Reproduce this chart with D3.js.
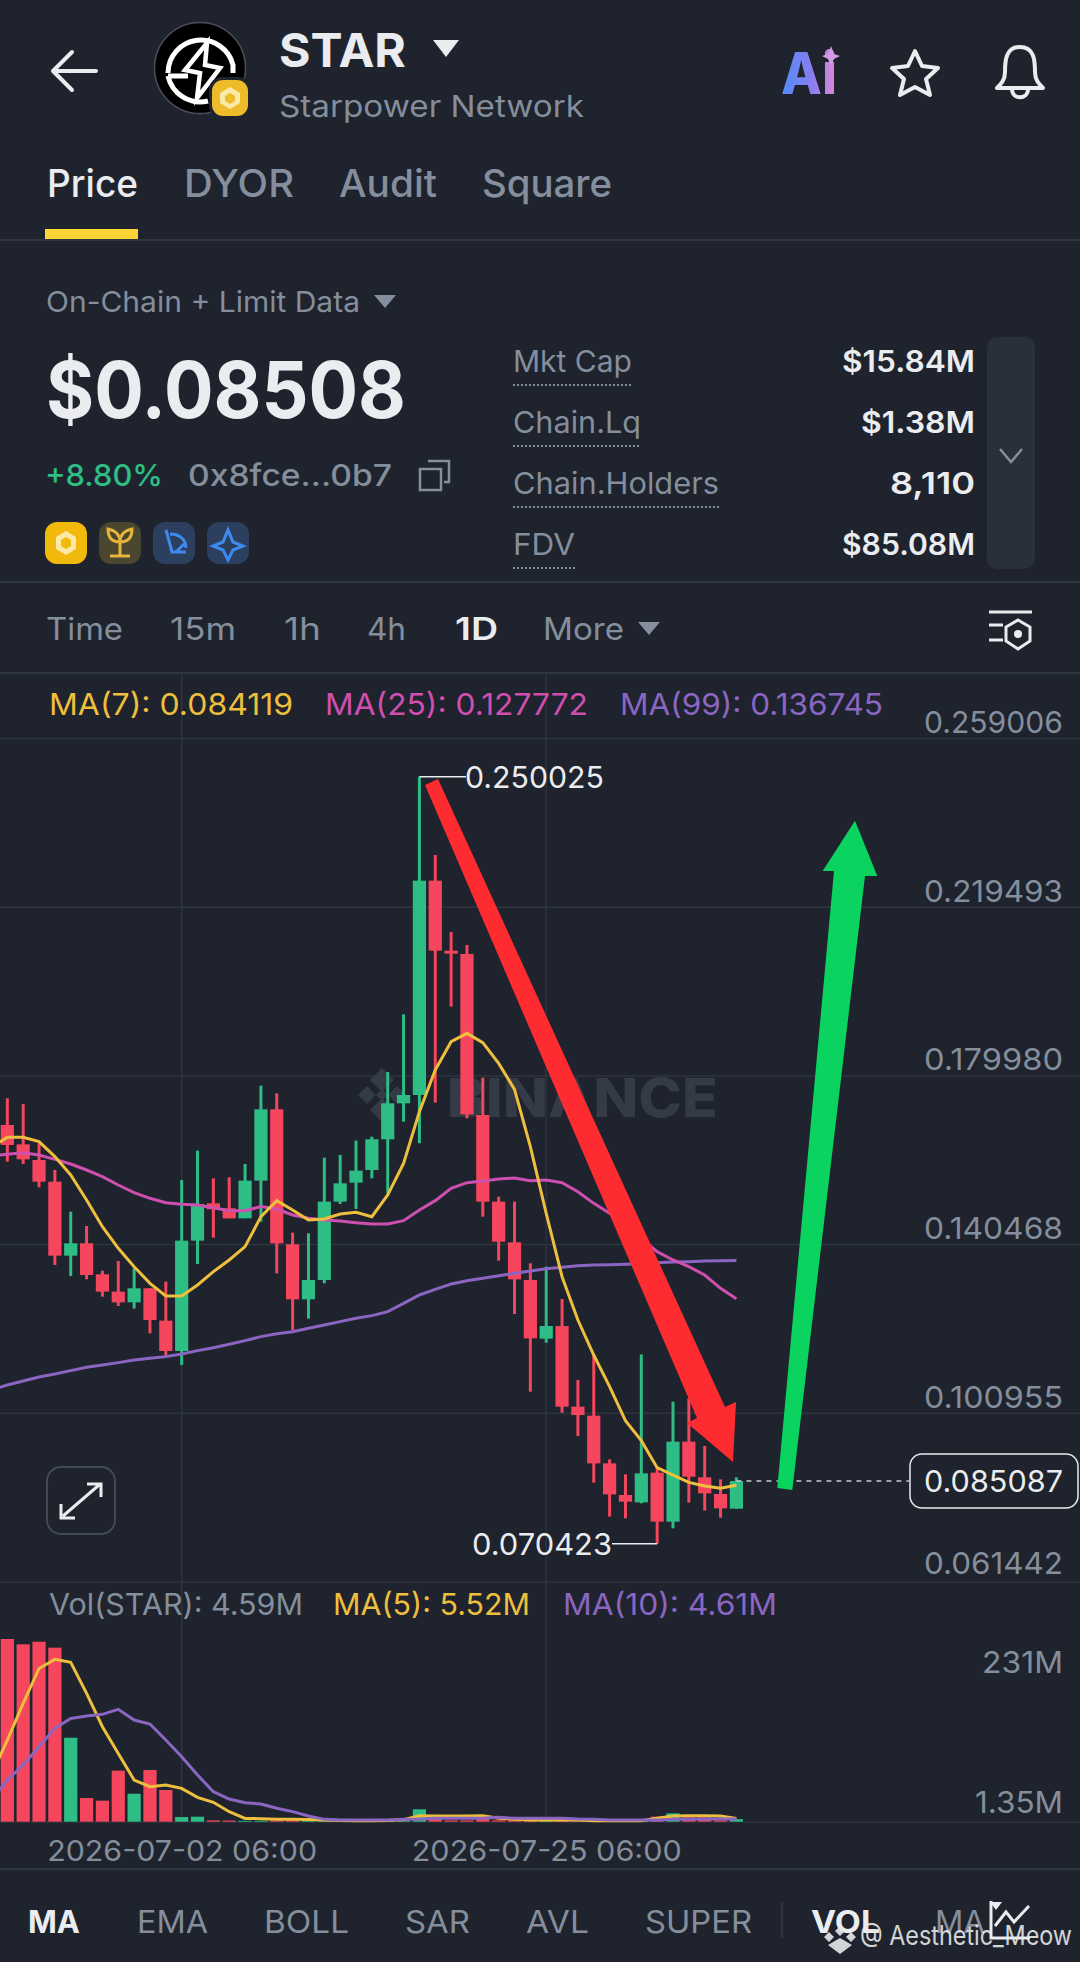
<!DOCTYPE html>
<html>
<head>
<meta charset="utf-8">
<script src="https://cdn.jsdelivr.net/npm/d3@7"></script>
<style>
  html, body { margin: 0; padding: 0; background: #1e232d; }
  svg { display: block; font-family: Inter, "Noto Sans", sans-serif; }
</style>
</head>
<body>
<div id="chart"></div>
<script>
//-------------------------------------------------------//
//                        DATA                           //
//-------------------------------------------------------//

// first candle is 2026-06-21, one per day. the MA lists start one day earlier
// because the lines run off the left edge of the chart
var firstDay = new Date(Date.UTC(2026, 5, 21, 6));

var opens = [0.16848, 0.16395, 0.16028, 0.15521, 0.13788, 0.14077, 0.13351, 0.12945, 0.12695, 0.13023, 0.12266, 0.11555,
    0.14139, 0.15014, 0.14897, 0.14662, 0.15545, 0.17215, 0.14054, 0.12765, 0.13218, 0.15053, 0.15498, 0.15794,
    0.16513, 0.17356, 0.17551, 0.22571, 0.20931, 0.20853, 0.17082, 0.15052, 0.14099, 0.13217, 0.11843, 0.12140,
    0.10251, 0.10040, 0.08923, 0.08182, 0.08010, 0.08705, 0.07557, 0.09431, 0.08596, 0.08205, 0.07862];
var closes = [0.16380, 0.16044, 0.15521, 0.13788, 0.14077, 0.13335, 0.12945, 0.12695, 0.13023, 0.12281, 0.11555, 0.14139,
    0.14998, 0.14873, 0.14662, 0.15545, 0.17215, 0.14077, 0.12765, 0.13218, 0.15053, 0.15482, 0.15779, 0.16513,
    0.17356, 0.17551, 0.22571, 0.20931, 0.20861, 0.17098, 0.15052, 0.14115, 0.13233, 0.11851, 0.12140, 0.10251,
    0.10055, 0.08923, 0.08197, 0.08026, 0.08689, 0.07557, 0.09431, 0.08611, 0.08221, 0.07870, 0.085087];
var highs = [0.17473, 0.17340, 0.16419, 0.15794, 0.14818, 0.14483, 0.13436, 0.13663, 0.13491, 0.13023, 0.13179, 0.15560,
    0.16247, 0.15599, 0.15623, 0.15935, 0.17770, 0.17590, 0.14327, 0.14311, 0.16083, 0.16146, 0.16481, 0.16575,
    0.18090, 0.19440, 0.250025, 0.23172, 0.21368, 0.21064, 0.17957, 0.15169, 0.15052, 0.13608, 0.13530, 0.12772,
    0.10875, 0.11461, 0.09017, 0.08666, 0.11476, 0.08806, 0.10368, 0.10446, 0.09329, 0.08549, 0.08596];
var lows = [0.15989, 0.15935, 0.15388, 0.13569, 0.13311, 0.13234, 0.12827, 0.12609, 0.12547, 0.11969, 0.11438, 0.11227,
    0.13593, 0.14210, 0.14662, 0.14662, 0.14584, 0.13374, 0.12047, 0.12313, 0.13140, 0.14998, 0.14881, 0.15599,
    0.15248, 0.16926, 0.16419, 0.17371, 0.19620, 0.17004, 0.14701, 0.13670, 0.12421, 0.10602, 0.11749, 0.10110,
    0.09564, 0.08471, 0.07674, 0.07635, 0.07987, 0.070423, 0.07401, 0.08002, 0.07815, 0.07651, 0.07862];

var ma7 = [0.16341, 0.16559, 0.16559, 0.16458, 0.16107, 0.15677, 0.15092, 0.14467, 0.13960, 0.13530, 0.13140, 0.12843,
    0.12843, 0.13101, 0.13413, 0.13687, 0.13999, 0.14701, 0.15076, 0.14857, 0.14623, 0.14647, 0.14764, 0.14803,
    0.14701, 0.15209, 0.15950, 0.17161, 0.18136, 0.18800, 0.18995, 0.18776, 0.18292, 0.17683, 0.16341, 0.14779,
    0.13295, 0.12280, 0.11461, 0.10719, 0.09923, 0.09454, 0.08822, 0.08650, 0.08478, 0.08392, 0.08338, 0.084119];
var ma25 = [0.16122, 0.16161, 0.16200, 0.16146, 0.16044, 0.15935, 0.15794, 0.15638, 0.15443, 0.15264, 0.15131, 0.15029,
    0.14990, 0.14975, 0.14912, 0.14842, 0.14842, 0.14936, 0.14881, 0.14741, 0.14662, 0.14623, 0.14600, 0.14561,
    0.14530, 0.14529, 0.14607, 0.14857, 0.15076, 0.15365, 0.15497, 0.15537, 0.15583, 0.15607, 0.15544, 0.15560,
    0.15497, 0.15286, 0.15013, 0.14779, 0.14505, 0.14193, 0.13881, 0.13686, 0.13530, 0.13334, 0.13022, 0.127772];
var ma99 = [0.10642, 0.10759, 0.10853, 0.10946, 0.11017, 0.11095, 0.11173, 0.11227, 0.11282, 0.11344, 0.11384, 0.11423,
    0.11485, 0.11563, 0.11633, 0.11711, 0.11797, 0.11891, 0.11961, 0.12008, 0.12086, 0.12164, 0.12242, 0.12320,
    0.12383, 0.12476, 0.12671, 0.12867, 0.12999, 0.13124, 0.13202, 0.13257, 0.13319, 0.13374, 0.13429, 0.13480,
    0.13515, 0.13553, 0.13569, 0.13576, 0.13584, 0.13600, 0.13623, 0.13639, 0.13647, 0.13662, 0.13670, 0.136745];

// volume in millions
var volumes = [231, 224.3, 227.6, 220.1, 106.9, 31.1, 27.8, 65.5, 36.5, 66.3, 41.2, 7.2,
    7.6, 3, 2.8, 2.5, 2.5, 2.8, 3, 2.5, 2.2, 2, 2, 2.2,
    2.4, 3, 16.9, 6.8, 3, 3, 6.8, 3, 3, 3.5, 3, 2.5,
    2.2, 2.2, 2, 2, 2.5, 7.7, 11.9, 6.8, 6.8, 3, 4.59];
var volMa5 = [60, 104, 150, 194, 205.4, 201.6, 162.7, 120.8, 87.2, 53.7, 45.3, 47.4,
    43.3, 31.9, 25.7, 13.9, 5.5, 5.1, 4.3, 4.3, 4, 3.5, 2.8, 2.6,
    2.6, 2.8, 4, 8.9, 8.5, 8.5, 8.5, 8.9, 5.6, 4.3, 3.5, 3.5,
    3.5, 3.5, 2.7, 2.7, 2.7, 2.7, 5.6, 8.5, 8.9, 8.9, 8.5, 5.52];
var volMa10 = [28.6, 53.7, 72.6, 95.6, 118.7, 131.2, 134.2, 136.3, 142.6, 129.1, 124.1, 104,
    83, 60, 39.1, 29.8, 25.3, 23.6, 18.2, 14, 8.5, 4.3, 3.5, 3.5,
    3.5, 3.5, 4.3, 4.3, 5.6, 5.6, 5.6, 5.6, 6.9, 5.6, 5.6, 5.6,
    5.6, 4.7, 4.3, 3.5, 3.5, 3.5, 3.5, 4.3, 4.3, 4.7, 4.7, 4.61];

var priceTicks = [0.259006, 0.219493, 0.179980, 0.140468, 0.100955, 0.061442];
var volTicks = [231, 1.35];
var dateTicks = [new Date(Date.UTC(2026, 6, 2, 6)), new Date(Date.UTC(2026, 6, 25, 6))];

var tabs = ["Price", "DYOR", "Audit", "Square"];
var intervals = ["Time", "15m", "1h", "4h", "1D", "More"];
var statNames = ["Mkt Cap", "Chain.Lq", "Chain.Holders", "FDV"];
var statValues = ["$15.84M", "$1.38M", "8,110", "$85.08M"];
var maLegend = ["MA(7): 0.084119", "MA(25): 0.127772", "MA(99): 0.136745"];
var volLegend = ["Vol(STAR): 4.59M", "MA(5): 5.52M", "MA(10): 4.61M"];
var indicators = ["MA", "EMA", "BOLL", "SAR", "AVL", "SUPER"];

//-------------------------------------------------------//
//                     SVG + SCALES                      //
//-------------------------------------------------------//

var svgWidth = 1080;
var svgHeight = 1962;

var bgColor = "#1e232d";
var lineColor = "#2f353f";
var gray = "#848e9c";
var white = "#eaecef";
var green = "#2ebd85";
var red = "#f6465d";
var yellow = "#eebf3c";
var pink = "#cf4fb0";
var purple = "#8a66c2";

var svg = d3.select("#chart")
    .append("svg")
    .attr("width", svgWidth)
    .attr("height", svgHeight)
    .attr("viewBox", `0 0 ${svgWidth} ${svgHeight}`);

svg.append("rect").attr("width", svgWidth).attr("height", svgHeight).attr("fill", bgColor);

var days = volumes.map((d, i) => d3.utcDay.offset(firstDay, i));
var maDays = [d3.utcDay.offset(firstDay, -1)].concat(days);

var xScale = d3.scaleUtc()
    .domain([days[0], days[days.length - 1]])
    .range([7.33, 736.4]);

var yScale = d3.scaleLinear()
    .domain([priceTicks[0], priceTicks[priceTicks.length - 1]])
    .range([738.5, 1582]);

var volScale = d3.scaleLinear()
    .domain(volTicks)
    .range([1639, 1821.7]);

// the app font is wider than Inter, w pins a label to the width it has on screen
function label(parent, txt, x, y, size, fill, weight, anchor, w) {
    var t = parent.append("text")
        .attr("x", x)
        .attr("y", y)
        .attr("font-size", size)
        .attr("fill", fill)
        .attr("font-weight", weight || 400)
        .attr("text-anchor", anchor || "start")
        .text(txt);
    if (w) {
        t.attr("textLength", w).attr("lengthAdjust", "spacingAndGlyphs");
    }
    return t;
}

function hline(y, color) {
    svg.append("line").attr("x1", 0).attr("x2", svgWidth).attr("y1", y).attr("y2", y)
        .attr("stroke", color || lineColor).attr("stroke-width", 2);
}

//-------------------------------------------------------//
//                       HEADER                          //
//-------------------------------------------------------//

// back arrow
svg.append("path")
    .attr("d", "M96 71H54M72 52L53 71L72 90")
    .attr("fill", "none").attr("stroke", white).attr("stroke-width", 4).attr("stroke-linecap", "round").attr("stroke-linejoin", "round");

// token logo
var logo = svg.append("g").attr("transform", "translate(200,68)");
logo.append("circle").attr("r", 45.5).attr("fill", "#000").attr("stroke", "#4a4f58").attr("stroke-width", 1.5);
logo.append("path")
    .attr("d", "M-32 5A33 33 0 0 1 33 -3V5M-32 8H-12M-32 8A33 33 0 0 0 8 33")
    .attr("fill", "none").attr("stroke", "#fff").attr("stroke-width", 5);
logo.append("path")
    .attr("d", "M7 -25L-15 2L0 5L-3 30L20 0L5 -3Z")
    .attr("fill", "#000").attr("stroke", "#fff").attr("stroke-width", 4.5).attr("stroke-linejoin", "miter");
var chainBadge = svg.append("g");
chainBadge.append("rect").attr("x", 209).attr("y", 77).attr("width", 42).attr("height", 42).attr("rx", 13).attr("fill", bgColor);
chainBadge.append("rect").attr("x", 212).attr("y", 80).attr("width", 36).attr("height", 36).attr("rx", 11).attr("fill", "#eebb2a");
chainBadge.append("path")
    .attr("transform", "translate(230,98)")
    .attr("d", "M0 -11L10 -5V5L0 11L-10 5V-5ZM0 -5L5 -2V3L0 6L-5 3V-2Z")
    .attr("fill", "#fbe9a8").attr("fill-rule", "evenodd");

label(svg, "STAR", 279, 67, 47, white, 700, "start", 127);
svg.append("path").attr("d", "M433 40H459L446 57Z").attr("fill", white);
label(svg, "Starpower Network", 279, 117, 30, gray, 400, "start", 305);

// ai / star / bell icons
var aiGrad = svg.append("defs").append("linearGradient").attr("id", "aiGrad")
    .attr("x1", "0%").attr("x2", "100%").attr("y1", "0%").attr("y2", "0%");
aiGrad.append("stop").attr("offset", "0%").attr("stop-color", "#4f8df5");
aiGrad.append("stop").attr("offset", "55%").attr("stop-color", "#8a7df0");
aiGrad.append("stop").attr("offset", "100%").attr("stop-color", "#e08ad8");
label(svg, "Ai", 781, 94, 58, "url(#aiGrad)", 800, "start", 56);
svg.append("path").attr("d", "M831 46L834 54L840 56L834 59L831 66L828 59L822 56L828 54Z").attr("fill", "#d59ae6");
svg.append("path")
    .attr("d", "M915 51L922 66L938 68L926 79L930 95L915 87L900 95L904 79L892 68L908 66Z")
    .attr("fill", "none").attr("stroke", white).attr("stroke-width", 4).attr("stroke-linejoin", "round");
svg.append("path")
    .attr("d", "M1020 47C1006 47 1005 60 1005 72C1005 80 1001 84 997 88H1043C1039 84 1035 80 1035 72C1035 60 1034 47 1020 47ZM1012 89C1012 100 1028 100 1028 89")
    .attr("fill", "none").attr("stroke", white).attr("stroke-width", 4).attr("stroke-linejoin", "round");

// tabs
var tabX = [47, 184, 339, 482];
var tabW = [91, 110, 98, 130];
tabs.forEach(function(t, i) {
    label(svg, t, tabX[i], 197, 38, i === 0 ? white : gray, 500, "start", tabW[i]);
});
svg.append("rect").attr("x", 45).attr("y", 229).attr("width", 93).attr("height", 10).attr("fill", "#fcd535");
hline(240);

//-------------------------------------------------------//
//                     PRICE BLOCK                       //
//-------------------------------------------------------//

label(svg, "On-Chain + Limit Data", 46, 312, 29, gray, 400, "start", 314);
svg.append("path").attr("d", "M374 295H396L385 308Z").attr("fill", gray);

label(svg, "$0.08508", 46, 418, 78, white, 700, "start", 360);
label(svg, "+8.80%", 45, 486, 30, green, 500, "start", 118);
label(svg, "0x8fce...0b7", 188, 486, 30, gray, 500, "start", 204);
svg.append("path")
    .attr("d", "M428 461H449V482H444M420 469H441V490H420Z")
    .attr("fill", "none").attr("stroke", gray).attr("stroke-width", 2.5);

var badgeFill = ["#f0b90b", "#4a4630", "#2d3f5e", "#2d3f5e"];
var badgeX = [45, 99, 153, 207];
badgeX.forEach(function(x, i) {
    svg.append("rect").attr("x", x).attr("y", 522).attr("width", 42).attr("height", 42).attr("rx", 12).attr("fill", badgeFill[i]);
});
svg.append("path").attr("d", "M66 531L76 537V549L66 555L56 549V537ZM66 537L71 540V546L66 549L61 546V540Z")
    .attr("fill", "#fbe9a8").attr("fill-rule", "evenodd");
svg.append("path").attr("d", "M120 556V542M110 556H130M120 542C110 542 108 535 108 529C114 530 120 534 120 542C120 534 126 530 132 529C132 535 130 542 120 542")
    .attr("fill", "none").attr("stroke", "#e5b53a").attr("stroke-width", 3);
svg.append("path").attr("d", "M166 530L172 552H186M170 534C180 534 186 540 186 548M176 552L184 544")
    .attr("fill", "none").attr("stroke", "#3d8bf0").attr("stroke-width", 3);
svg.append("path").attr("d", "M228 530L233 542L243 546L233 550L228 560L223 550L213 546L223 542Z")
    .attr("fill", "none").attr("stroke", "#3d8bf0").attr("stroke-width", 3);

// market stats
var statY = [372, 433, 494, 555];
var statNameW = [119, 128, 206, 62];
var statValueW = [133, 114, 85, 133];
statNames.forEach(function(n, i) {
    label(svg, n, 513, statY[i], 30, gray, 400, "start", statNameW[i]);
    svg.append("line").attr("x1", 513).attr("x2", 513 + statNameW[i]).attr("y1", statY[i] + 13).attr("y2", statY[i] + 13)
        .attr("stroke", gray).attr("stroke-width", 2).attr("stroke-dasharray", "2 2");
    label(svg, statValues[i], 975, statY[i], 30, white, 600, "end", statValueW[i]);
});
svg.append("rect").attr("x", 987).attr("y", 337).attr("width", 48).attr("height", 232).attr("rx", 10).attr("fill", "#2a303a");
svg.append("path").attr("d", "M1000 449L1011 462L1022 449").attr("fill", "none").attr("stroke", gray).attr("stroke-width", 2.5);
hline(582);

//-------------------------------------------------------//
//                      INTERVALS                        //
//-------------------------------------------------------//

var intervalX = [46, 170, 284, 367, 455, 543];
var intervalW = [77, 66, 37, 39, 43, 81];
intervals.forEach(function(t, i) {
    label(svg, t, intervalX[i], 640, 31, t === "1D" ? white : gray, t === "1D" ? 600 : 400, "start", intervalW[i]);
});
svg.append("path").attr("d", "M638 622H660L649 635Z").attr("fill", gray);
svg.append("path")
    .attr("d", "M989 612H1032M989 625H1003M989 640H1003")
    .attr("fill", "none").attr("stroke", white).attr("stroke-width", 3);
svg.append("path")
    .attr("d", "M1018 620L1030 627V641L1018 649L1006 641V627Z")
    .attr("fill", "none").attr("stroke", white).attr("stroke-width", 3);
svg.append("circle").attr("cx", 1018).attr("cy", 634).attr("r", 4).attr("fill", white);
hline(673);

//-------------------------------------------------------//
//                         CHART                         //
//-------------------------------------------------------//

// grid
svg.append("g").selectAll("line")
    .data(priceTicks)
    .enter()
    .append("line")
    .attr("x1", 0).attr("x2", svgWidth)
    .attr("y1", d => yScale(d)).attr("y2", d => yScale(d))
    .attr("stroke", lineColor).attr("stroke-width", 1.5);

svg.append("g").selectAll("line")
    .data(dateTicks)
    .enter()
    .append("line")
    .attr("x1", d => xScale(d)).attr("x2", d => xScale(d))
    .attr("y1", 673).attr("y2", 1822)
    .attr("stroke", lineColor).attr("stroke-width", 1.5);

// binance watermark
var mark = svg.append("g").attr("fill", "#353b46");
mark.selectAll("path")
    .data([[382, 1080, 12], [367, 1095, 9], [397, 1095, 9], [382, 1110, 12], [382, 1095, 6]])
    .enter()
    .append("path")
    .attr("d", d => `M${d[0]} ${d[1] - d[2]}L${d[0] + d[2]} ${d[1]}L${d[0]} ${d[1] + d[2]}L${d[0] - d[2]} ${d[1]}Z`);
label(mark, "BINANCE", 447, 1117, 54, "#353b46", 800, "start", 271);

// legend
var legendColor = [yellow, pink, purple];
var legendX = [49, 325, 620];
maLegend.forEach(function(t, i) {
    label(svg, t, legendX[i], 715, 30, legendColor[i], 400, "start", i === 0 ? 244 : 263);
});

// price axis, labels sit just above their gridlines
var priceAxis = d3.axisLeft(yScale)
    .tickValues(priceTicks)
    .tickFormat(d3.format(".6f"))
    .tickSize(0);
var priceAxisG = svg.append("g").attr("transform", "translate(1063,0)").call(priceAxis);
priceAxisG.select(".domain").remove();
priceAxisG.selectAll("text")
    .attr("x", 0)
    .attr("dy", 0)
    .attr("y", (d, i) => i === priceTicks.length - 1 ? -9 : -6)
    .attr("font-size", 30)
    .attr("font-family", "Inter, sans-serif")
    .attr("textLength", 139)
    .attr("lengthAdjust", "spacingAndGlyphs")
    .attr("fill", gray);

// candles
var candles = svg.append("g");

candles.selectAll("line")
    .data(days)
    .enter()
    .append("line")
    .attr("x1", d => xScale(d))
    .attr("x2", d => xScale(d))
    .attr("y1", (d, i) => yScale(highs[i]))
    .attr("y2", (d, i) => yScale(lows[i]))
    .attr("stroke", (d, i) => closes[i] >= opens[i] ? green : red)
    .attr("stroke-width", 3);

candles.selectAll("rect")
    .data(days)
    .enter()
    .append("rect")
    .attr("x", d => xScale(d) - 6.6)
    .attr("width", 13.2)
    .attr("y", (d, i) => yScale(Math.max(opens[i], closes[i])))
    .attr("height", (d, i) => Math.max(2, Math.abs(yScale(opens[i]) - yScale(closes[i]))))
    .attr("fill", (d, i) => closes[i] >= opens[i] ? green : red);

// moving averages
var priceLine = d3.line().x((d, i) => xScale(maDays[i])).y(d => yScale(d));
[[ma99, purple], [ma25, pink], [ma7, yellow]].forEach(function(s) {
    svg.append("path")
        .attr("d", priceLine(s[0]))
        .attr("fill", "none")
        .attr("stroke", s[1])
        .attr("stroke-width", 3);
});

// high and low callouts
var hiIndex = highs.indexOf(d3.max(highs));
var loIndex = lows.indexOf(d3.min(lows));
svg.append("path")
    .attr("d", `M${xScale(days[hiIndex])} ${yScale(highs[hiIndex])}H466`)
    .attr("stroke", white).attr("stroke-width", 1.5).attr("fill", "none");
label(svg, d3.format(".6f")(highs[hiIndex]), 465, 788, 30, white, 400, "start", 139);
svg.append("path")
    .attr("d", `M${xScale(days[loIndex])} ${yScale(lows[loIndex])}H612`)
    .attr("stroke", white).attr("stroke-width", 1.5).attr("fill", "none");
label(svg, d3.format(".6f")(lows[loIndex]), 612, 1555, 30, white, 400, "end", 140);

// current price line and box
var last = closes[closes.length - 1];
svg.append("line")
    .attr("x1", xScale(days[days.length - 1]))
    .attr("x2", 909)
    .attr("y1", yScale(last))
    .attr("y2", yScale(last))
    .attr("stroke", "#c8ccd2").attr("stroke-width", 1.5).attr("stroke-dasharray", "5 5");
svg.append("rect")
    .attr("x", 910).attr("width", 168)
    .attr("y", yScale(last) - 27).attr("height", 54)
    .attr("rx", 12)
    .attr("fill", bgColor).attr("stroke", white).attr("stroke-width", 1.5);
label(svg, d3.format(".6f")(last), 1063, yScale(last) + 11, 30, white, 400, "end", 139);

// expand button
svg.append("rect").attr("x", 47).attr("y", 1467).attr("width", 68).attr("height", 67).attr("rx", 14)
    .attr("fill", "none").attr("stroke", "#444a54").attr("stroke-width", 2);
svg.append("path")
    .attr("d", "M63 1516L99 1485M87 1484H101V1497M61 1504V1518H75")
    .attr("fill", "none").attr("stroke", white).attr("stroke-width", 3);

//-------------------------------------------------------//
//                        VOLUME                         //
//-------------------------------------------------------//

var volLegendX = [49, 333, 563];
var volLegendW = [254, 197, 214];
var volColor = [gray, yellow, purple];
volLegend.forEach(function(t, i) {
    label(svg, t, volLegendX[i], 1615, 30, volColor[i], 400, "start", volLegendW[i]);
});

svg.append("line").attr("x1", 0).attr("x2", svgWidth).attr("y1", 1822).attr("y2", 1822)
    .attr("stroke", lineColor).attr("stroke-width", 1.5);

svg.append("g").selectAll("rect")
    .data(volumes)
    .enter()
    .append("rect")
    .attr("x", (d, i) => xScale(days[i]) - 6.6)
    .attr("width", 13.2)
    .attr("y", d => volScale(d))
    .attr("height", d => 1821.7 - volScale(d))
    .attr("fill", (d, i) => closes[i] >= opens[i] ? green : red);

var volLine = d3.line().x((d, i) => xScale(maDays[i])).y(d => volScale(d));
[[volMa5, yellow], [volMa10, purple]].forEach(function(s) {
    svg.append("path")
        .attr("d", volLine(s[0]))
        .attr("fill", "none")
        .attr("stroke", s[1])
        .attr("stroke-width", 3);
});

var volAxis = d3.axisLeft(volScale)
    .tickValues(volTicks)
    .tickFormat(d => d + "M")
    .tickSize(0);
var volAxisG = svg.append("g").attr("transform", "translate(1063,0)").call(volAxis);
volAxisG.select(".domain").remove();
volAxisG.selectAll("text")
    .attr("x", 0)
    .attr("dy", 0)
    .attr("y", (d, i) => i === 0 ? 33 : -9)
    .attr("font-size", 30)
    .attr("font-family", "Inter, sans-serif")
    .attr("textLength", (d, i) => i === 0 ? 81 : 88)
    .attr("lengthAdjust", "spacingAndGlyphs")
    .attr("fill", gray);

// date axis
var dateAxis = d3.axisBottom(xScale)
    .tickValues(dateTicks)
    .tickFormat(d3.utcFormat("%Y-%m-%d %H:%M"))
    .tickSize(0);
var dateAxisG = svg.append("g").attr("transform", "translate(0,1825)").call(dateAxis);
dateAxisG.select(".domain").remove();
dateAxisG.selectAll("text")
    .attr("y", 36)
    .attr("dy", 0)
    .attr("font-size", 29)
    .attr("font-family", "Inter, sans-serif")
    .attr("textLength", 270)
    .attr("lengthAdjust", "spacingAndGlyphs")
    .attr("fill", gray);
hline(1869);

// indicator row
var indicatorX = [28, 137, 264, 405, 526, 645];
var indicatorW = [52, 71, 85, 65, 63, 107];
indicators.forEach(function(t, i) {
    label(svg, t, indicatorX[i], 1933, 31, i === 0 ? white : gray, i === 0 ? 700 : 400, "start", indicatorW[i]);
});
svg.append("line").attr("x1", 782).attr("x2", 782).attr("y1", 1902).attr("y2", 1938).attr("stroke", lineColor).attr("stroke-width", 2);
label(svg, "VOL", 811, 1933, 31, white, 700, "start", 69);
label(svg, "MA", 935, 1933, 31, gray, 400, "start", 50);
svg.append("path")
    .attr("d", "M991 1901V1938H1030M995 1926L1006 1912L1014 1922L1029 1906")
    .attr("fill", "none").attr("stroke", white).attr("stroke-width", 3);
svg.append("path").attr("d", "M990 1902H1002L996 1910Z").attr("fill", white);

//-------------------------------------------------------//
//                    DRAWN-ON ARROWS                    //
//-------------------------------------------------------//

// hand drawn on the screenshot, so these two are plain outlines
svg.append("path")
    .attr("d", "M425 785L438 779L725 1407L736 1402L733 1462L687 1423L697 1418Z")
    .attr("fill", "#fe2b30");
svg.append("path")
    .attr("d", "M777.3 1488L792.3 1490L865 876L877.3 876L855 820.7L822.7 871L834 871Z")
    .attr("fill", "#0ad45f");

// repost credit in the corner
var credit = svg.append("g").attr("opacity", 0.9);
credit.append("path")
    .attr("d", "M840 1926L845 1931L840 1936L835 1931ZM829 1932L834 1937L829 1942L824 1937ZM851 1932L856 1937L851 1942L846 1937ZM840 1938L852 1945L840 1954L828 1945Z")
    .attr("fill", "#e6e8ea");
label(credit, "@ Aesthetic_Meow", 860, 1945, 27, "#e6e8ea", 400, "start", 212);
</script>
</body>
</html>
